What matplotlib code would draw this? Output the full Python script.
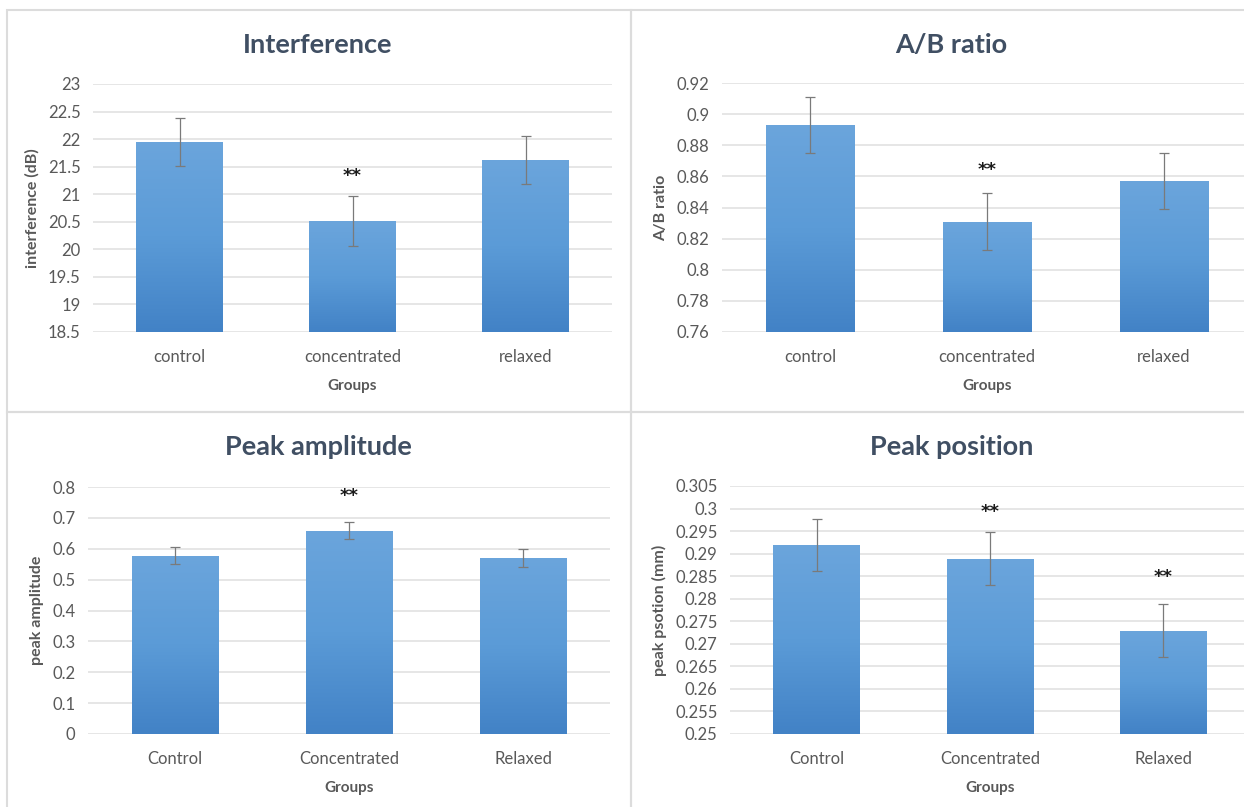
import numpy as np
import matplotlib.pyplot as plt
from matplotlib.colors import LinearSegmentedColormap
from matplotlib.patches import Rectangle

# group means and error bar half-widths per measure
groups_lower = ['control', 'concentrated', 'relaxed']
groups_upper = ['Control', 'Concentrated', 'Relaxed']

interference = [21.95, 20.51, 21.62]
interference_err = [0.44, 0.45, 0.44]

ab_ratio = [0.893, 0.831, 0.857]
ab_ratio_err = [0.018, 0.018, 0.018]

peak_amp = [0.577, 0.658, 0.571]
peak_amp_err = [0.028, 0.028, 0.029]

peak_pos = [0.2919, 0.2889, 0.2729]
peak_pos_err = [0.0058, 0.0059, 0.0059]

# significance marks: (bar index, y value of the stars)
stars_interference = [(1, 21.33)]
stars_ab = [(1, 0.864)]
stars_amp = [(1, 0.771)]
stars_pos = [(1, 0.2993), (2, 0.2849)]

W, H = 1244, 807
plt.rcParams['font.family'] = ['Lato', 'DejaVu Sans']

fig = plt.figure(figsize=(W / 100, H / 100), dpi=100)
fig.patch.set_facecolor('white')

grad = LinearSegmentedColormap.from_list('bar', ['#4282c6', '#5b9bd7', '#6ba5dc'])
grid_col = '#e2e2e2'
tick_col = '#595959'
title_col = '#404f63'


def px_axes(left, right, top, bottom):
    return fig.add_axes([left / W, 1 - bottom / H, (right - left) / W, (bottom - top) / H])


def draw_panel(box, title, title_xy, cats, vals, errs, yticks, ylabel, stars, tick_fmt):
    ax = px_axes(*box)
    x = np.arange(len(vals))
    ymin, ymax = yticks[0], yticks[-1]
    bars = ax.bar(x, vals, width=0.5, bottom=0, color='#5b9bd5', zorder=2)
    img = np.linspace(0, 1, 256).reshape(-1, 1)
    for b in bars:
        b.set_visible(False)
        x0 = b.get_x()
        im = ax.imshow(img, cmap=grad, aspect='auto', origin='lower',
                       extent=[x0, x0 + b.get_width(), ymin, b.get_height()],
                       zorder=2, interpolation='bicubic')
        clip = Rectangle((x0, ymin), b.get_width(), b.get_height() - ymin,
                         transform=ax.transData)
        im.set_clip_path(clip)
    ax.errorbar(x, vals, yerr=errs, fmt='none', ecolor='#7a7a7a', elinewidth=0.9,
                capsize=3.5, capthick=0.9, zorder=3)
    for i, sy in stars:
        ax.text(i, sy, '**', ha='center', va='center', fontsize=13,
                fontweight='bold', color='#1a1a1a', family=['DejaVu Sans'])
    ax.set_xlim(-0.5, len(vals) - 0.5)
    ax.set_ylim(ymin, ymax)
    ax.set_yticks(yticks)
    ax.set_yticklabels([tick_fmt(t) for t in yticks])
    ax.set_xticks(x)
    ax.set_xticklabels(cats)
    ax.yaxis.grid(True, color=grid_col, linewidth=1.2, zorder=0)
    ax.set_axisbelow(True)
    for s in ax.spines.values():
        s.set_visible(False)
    ax.tick_params(length=0, labelsize=12, colors=tick_col, pad=9)
    ax.tick_params(axis='x', pad=12)
    ax.set_xlabel('Groups', fontsize=11, fontweight='bold', color=tick_col, labelpad=10)
    ax.set_ylabel(ylabel, fontsize=11.5, fontweight='bold', color=tick_col, labelpad=6)
    fig.text(title_xy[0] / W, 1 - title_xy[1] / H, title, ha='center', va='center',
             fontsize=19.5, fontweight='bold', color=title_col)
    return ax


def fmt_g(v):
    return ('%.3f' % v).rstrip('0').rstrip('.')


draw_panel((93, 612, 84, 332), 'Interference', (318, 45), groups_lower,
           interference, interference_err, np.arange(18.5, 23.01, 0.5),
           'interference (dB)', stars_interference, fmt_g)
draw_panel((722, 1252, 83, 332), 'A/B ratio', (951, 45), groups_lower,
           ab_ratio, ab_ratio_err, np.arange(0.76, 0.9201, 0.02),
           'A/B ratio', stars_ab, fmt_g)
draw_panel((88, 610, 487, 734), 'Peak amplitude', (318, 447), groups_upper,
           peak_amp, peak_amp_err, np.arange(0, 0.801, 0.1),
           'peak amplitude', stars_amp, fmt_g)
draw_panel((730, 1250, 486, 734), 'Peak position', (952, 447), groups_upper,
           peak_pos, peak_pos_err, np.arange(0.25, 0.30501, 0.005),
           'peak psotion (mm)', stars_pos, fmt_g)

# panel frames and the gray dividers between them
frame = '#dcdcdc'
for (l, t, r, b) in [(7, 10, 631, 412), (631, 10, W + 5, 412),
                     (7, 412, 631, H + 5), (631, 412, W + 5, H + 5)]:
    fig.patches.append(Rectangle((l / W, 1 - b / H), (r - l) / W, (b - t) / H,
                                 transform=fig.transFigure, fill=False,
                                 edgecolor=frame, linewidth=1.5, zorder=0))

fig.savefig('out.png', dpi=100, facecolor='white')
